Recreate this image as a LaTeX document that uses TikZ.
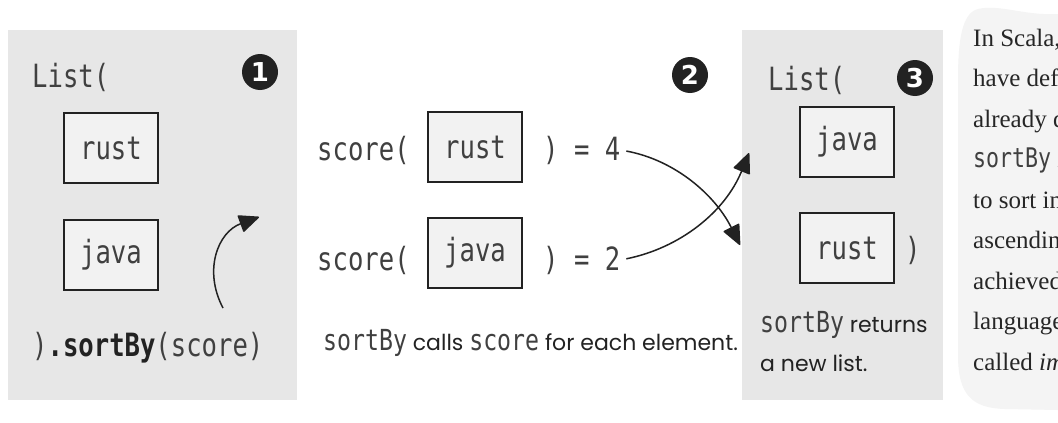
\documentclass[tikz,border=0pt]{standalone}
\usepackage{fontspec}
\setmainfont{Liberation Serif}
\newfontfamily\codefont[FakeStretch=0.8]{DejaVu Sans Mono}
\newfontfamily\handfont{Poppins}
\newfontfamily\numfont{DejaVu Sans}
\usetikzlibrary{arrows.meta}

\definecolor{panelgray}{HTML}{E7E7E7}
\definecolor{boxgray}{HTML}{F2F2F2}
\definecolor{notegray}{HTML}{F4F4F4}
\definecolor{codegray}{HTML}{404040}
\definecolor{inkdark}{HTML}{222222}

\newcommand{\capcode}[1]{{\codefont\fontsize{29}{32}\selectfont\color{codegray}#1}}
\newcommand{\notecode}[1]{{\codefont\fontsize{27}{30}\selectfont\color{codegray}#1}}

\tikzset{
  code/.style={font=\codefont\fontsize{32}{36}\selectfont, text=codegray, inner sep=0pt},
  elem/.style={code, draw=inkdark, line width=1.6pt, fill=boxgray, minimum width=94pt, minimum height=70pt},
  stepnum/.style={circle, fill=inkdark, text=white, minimum size=36pt, inner sep=0pt, font=\numfont\bfseries\fontsize{26}{26}\selectfont},
  hand/.style={font=\handfont\fontsize{22}{26}\selectfont, text=inkdark, inner sep=0pt},
  notetext/.style={font=\fontsize{25}{30}\selectfont, text=black!85, inner sep=0pt},
  flow/.style={line width=1.5pt, draw=inkdark, -{Triangle[length=21pt,width=18pt,round]}},
}

\begin{document}
\begin{tikzpicture}[x=1pt, y=-1pt]
\useasboundingbox (0,0) rectangle (1058,423);
\fill[white] (0,0) rectangle (1058,423);

% panels
\fill[panelgray] (8,30) rectangle (297,400);
\fill[panelgray] (742,30) rectangle (943,400);
\fill[notegray] (1058,14) .. controls (1025,16) and (1000,4) .. (978,9)
  .. controls (962,13) and (958,40) .. (958,80) -- (958,355)
  .. controls (958,395) and (972,408) .. (1005,409) -- (1058,410) -- cycle;

% 1
\node[stepnum] (one) at (260,72) {1};
\node[code, anchor=west] (listA) at (32,77) {List(};
\node[elem] (rustA) at (111,148) {rust};
\node[elem] (javaA) at (111,255) {java};
\node[code, anchor=west] (sortcall) at (32,348) {)\textbf{\color{inkdark}.sortBy}(score)};
\coordinate (bendfoot) at (223,308);
\coordinate (bendtip) at (259,217);
\draw[flow] (bendfoot) .. controls (203,270) and (218,232) .. (bendtip);

% 2
\node[stepnum] (two) at (690,75) {2};
\node[code, anchor=west] (scoreA) at (317,150) {score(};
\node[elem] (rustB) at (475,147) {rust};
\node[code, anchor=west] (eqfour) at (543,150) {) = 4};
\node[code, anchor=west] (scoreB) at (317,260) {score(};
\node[elem] (javaB) at (475,253) {java};
\node[code, anchor=west] (eqtwo) at (543,260) {) = 2};
\node[hand, anchor=west] (callcap) at (323,343) {\capcode{sortBy} calls \capcode{score} for each element.};
\coordinate (rustslot) at (740,245);
\coordinate (javaslot) at (749,153);
\draw[flow, shorten <=6pt] (eqfour.east) .. controls (675,160) and (715,195) .. (rustslot);
\draw[flow, shorten <=6pt] (eqtwo.east) .. controls (680,248) and (725,212) .. (javaslot);

% 3
\node[stepnum] (three) at (915,78) {3};
\node[code, anchor=west] (listB) at (768,80) {List(};
\node[elem] (javaC) at (847,142) {java};
\node[elem] (rustC) at (847,248) {rust};
\node[code, anchor=west] (closeC) at (905,250) {)};
\node[hand, anchor=west] (retcapA) at (760,325) {\capcode{sortBy} returns};
\node[hand, anchor=west] (retcapB) at (760,363) {a new list.};

% side note, cut by the page edge
\begin{scope}
\clip (0,0) rectangle (1058,423);
\foreach \txt [count=\i] in {{In Scala,}, {have def}, {already d}, {\notecode{sortBy} i}, {to sort in}, {ascendin}, {achieved}, {language}, {called \textit{im}}}
  \node[notetext, anchor=base west] (note\i) at (973,{46+40.5*(\i-1)}) {\txt};
\end{scope}
\end{tikzpicture}
\end{document}
